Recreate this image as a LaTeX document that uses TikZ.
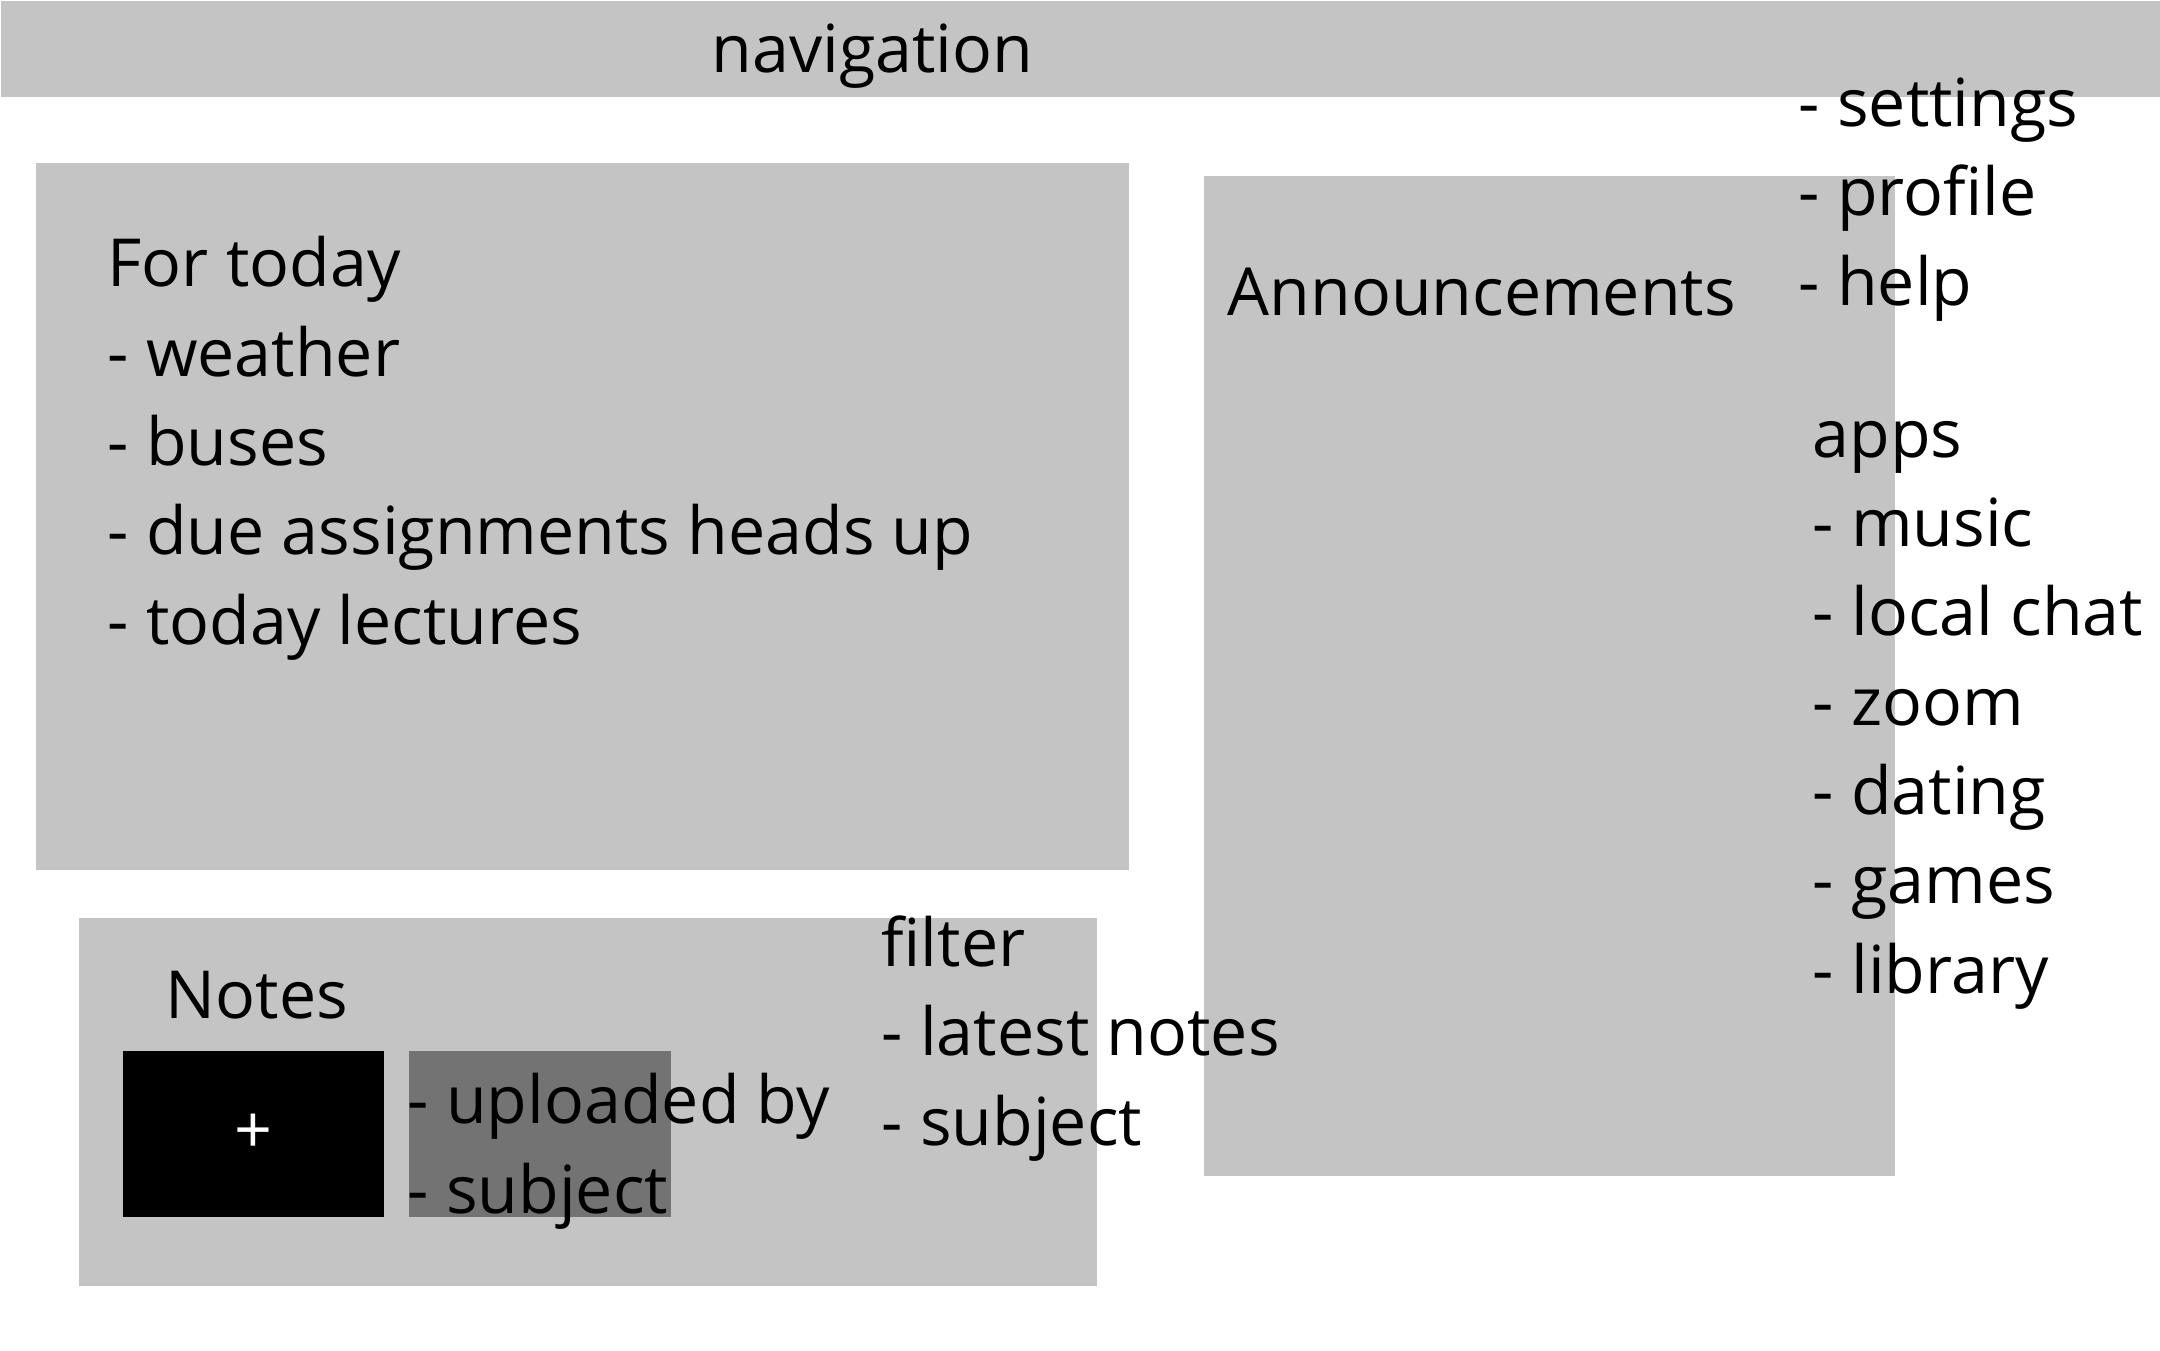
\documentclass[tikz,border=0pt]{standalone}
\usepackage{fontspec}
\setmainfont{Open Sans}
\usetikzlibrary{positioning}
\definecolor{boxgray}{HTML}{C4C4C4}
\definecolor{tilegray}{HTML}{737373}

\begin{document}
\begin{tikzpicture}[x=0.01cm,y=-0.01cm,
    panel/.style={fill=boxgray,draw=none,inner sep=0pt,anchor=north west},
    txt/.style={inner sep=0pt,align=left,anchor=base west,font=\fontsize{18.85}{25.4}\selectfont}]
    \useasboundingbox (0,0) rectangle (2160,1350);
    % panels
    \node[panel,minimum width=21.6cm,minimum height=0.96cm] (navbar) at (0,0) {};
    \node[panel,minimum width=10.93cm,minimum height=7.07cm] (today) at (35,162) {};
    \node[panel,minimum width=6.91cm,minimum height=10cm] (announce) at (1203,175) {};
    \node[panel,minimum width=10.18cm,minimum height=3.68cm] (notes) at (78,917) {};
    \node[panel,fill=black,minimum width=2.61cm,minimum height=1.66cm] (addtile) at (122,1050) {};
    \node[panel,fill=tilegray,minimum width=2.62cm,minimum height=1.66cm] (notetile) at (408,1050) {};

    % texts (base = baseline of the last line)
    \node[txt] (navlabel) at (711,72) {navigation};
    \node[txt] (todaytext) at (107,644) {For today\\- weather\\- buses\\- due assignments heads up\\- today lectures};
    \node[txt] (announcelabel) at (1227,315) {Announcements};
    \node[txt] (menutext) at (1798,305) {- settings\\- profile\\- help};
    \node[txt] (appstext) at (1812,993) {apps\\- music\\- local chat\\- zoom\\- dating\\- games\\- library};
    \node[txt] (noteslabel) at (165,1018) {Notes};
    \node[inner sep=0pt,text=white,font=\fontsize{18.85}{22}\selectfont] (plus) at (addtile.center) {+};
    \node[txt] (tiletext) at (407,1213) {- uploaded by\\- subject};
    \node[txt] (filtertext) at (881,1145) {filter\\- latest notes\\- subject};
\end{tikzpicture}
\end{document}
